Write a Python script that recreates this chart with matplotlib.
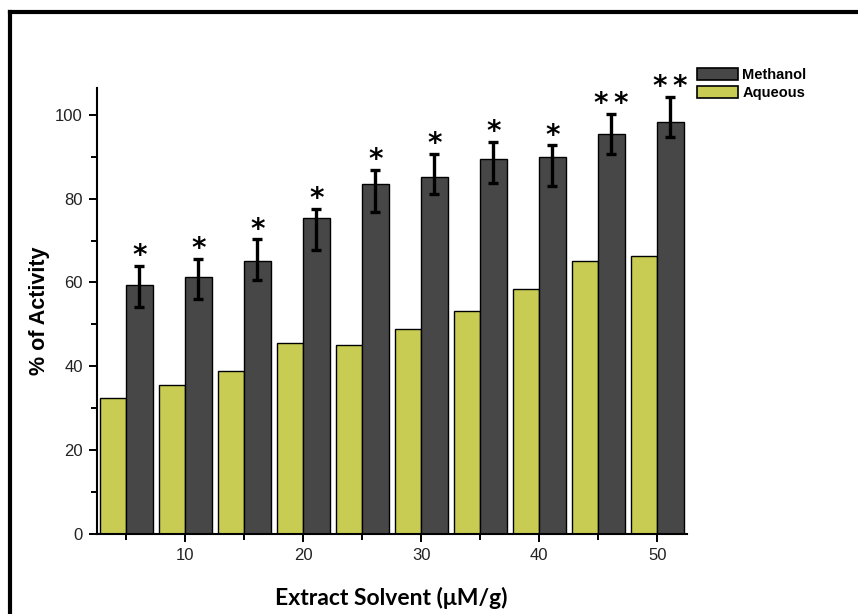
import numpy as np
import matplotlib
matplotlib.use('Agg')
import matplotlib.pyplot as plt
from matplotlib.lines import Line2D
from matplotlib.patches import Patch

# concentrations (uM/g)
conc = [5, 10, 15, 20, 25, 30, 35, 40, 45, 50]

# % activity
methanol = [59.4, 61.2, 65.2, 75.5, 83.5, 85.1, 89.5, 90.0, 95.5, 98.4]
aqueous = [32.5, 35.6, 38.8, 45.5, 45.1, 48.8, 53.1, 58.5, 65.2, 66.2]

# error bar ends (upper / lower) for methanol
err_hi = [64.0, 65.6, 70.3, 77.6, 86.9, 90.7, 93.6, 92.7, 100.2, 104.2]
err_lo = [54.2, 56.0, 60.6, 67.8, 76.9, 81.1, 83.8, 82.9, 90.6, 94.7]

stars = ['*', '*', '*', '*', '*', '*', '*', '*', '*\u2009*', '*\u2009*']

meth_color = '#474747'
aq_color = '#c8cc52'
bw = 2.25

fig = plt.figure(figsize=(8.58, 6.14), dpi=100)
ax = fig.add_axes([0.1127, 0.1303, 0.6876, 0.7264])

x = np.array(conc, dtype=float)
m = np.array(methanol)
ax.bar(x - bw, aqueous, width=bw, align='edge', color=aq_color,
       edgecolor='black', linewidth=1.0, zorder=2)
ax.bar(x, methanol, width=bw, align='edge', color=meth_color,
       edgecolor='black', linewidth=1.0, zorder=2)

yerr = [m - np.array(err_lo), np.array(err_hi) - m]
ax.errorbar(x + bw / 2, m, yerr=yerr, fmt='none', ecolor='black',
            elinewidth=2.4, capsize=3.4, capthick=2.4, zorder=3)

for xi, top, s in zip(x + bw / 2, err_hi, stars):
    ax.text(xi, top - 1.0, s, ha='center', va='bottom', fontsize=20,
            fontweight='bold', family='DejaVu Sans')

ax.set_xlim(2.5, 52.5)
ax.set_ylim(0, 106.4)
ax.set_xticks([10, 20, 30, 40, 50])
ax.set_xticks([5, 15, 25, 35, 45], minor=True)
ax.set_yticks([0, 20, 40, 60, 80, 100])
ax.set_yticks([10, 30, 50, 70, 90], minor=True)

for side in ['top', 'right']:
    ax.spines[side].set_visible(False)
for side in ['left', 'bottom']:
    ax.spines[side].set_linewidth(1.5)

ax.tick_params(which='major', direction='out', length=6, width=1.4,
               labelsize=12, pad=4)
ax.tick_params(which='minor', direction='out', length=4, width=1.4)
for lab in ax.get_xticklabels() + ax.get_yticklabels():
    lab.set_family('Liberation Sans')
    lab.set_color('#222222')

ax.set_ylabel('% of Activity', fontsize=15.5, fontweight='bold',
              family='Liberation Sans', labelpad=4)
ax.set_xlabel('Extract Solvent (μM/g)', fontsize=16.5, fontweight='bold',
              family='Lato', labelpad=17)

handles = [Patch(facecolor=meth_color, edgecolor='black', linewidth=1.2, label='Methanol'),
           Patch(facecolor=aq_color, edgecolor='black', linewidth=1.2, label='Aqueous')]
leg = ax.legend(handles=handles, loc='upper left', bbox_to_anchor=(1.0175, 1.045),
                frameon=False, borderpad=0, borderaxespad=0,
                handlelength=2.8, handleheight=0.9, handletextpad=0.3,
                labelspacing=0.25, prop={'family': 'Liberation Sans',
                                         'weight': 'bold', 'size': 10.5})

# frame lines on the top and left of the figure
fig.add_artist(Line2D([0.0117, 1.0], [0.9805, 0.9805], color='black', lw=3,
                      transform=fig.transFigure))
fig.add_artist(Line2D([0.0117, 0.0117], [0.0, 0.9805], color='black', lw=3,
                      transform=fig.transFigure))

fig.savefig('out.png', dpi=100)
